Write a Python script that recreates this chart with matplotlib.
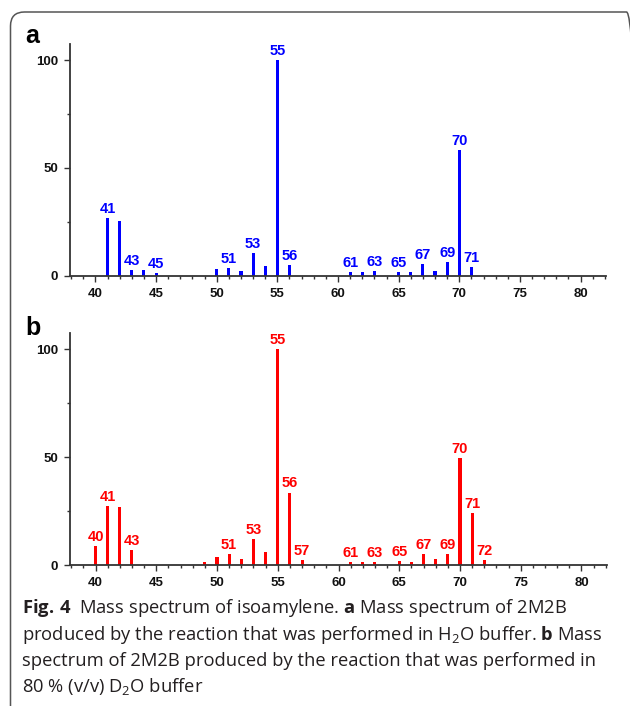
import matplotlib
matplotlib.use("Agg")
import matplotlib.pyplot as plt
from matplotlib.patches import FancyBboxPatch
from matplotlib.ticker import MultipleLocator
from matplotlib.font_manager import FontProperties

# m/z values and relative intensities
mz_a = [41, 42, 43, 44, 45, 50, 51, 52, 53, 54, 55, 56,
        61, 62, 63, 65, 66, 67, 68, 69, 70, 71]
int_a = [26.6, 25.2, 2.5, 2.5, 1.4, 3.1, 3.7, 2.0, 10.5, 4.6, 100, 5.1,
         1.5, 1.5, 2.0, 1.5, 1.7, 5.6, 2.0, 6.2, 58.2, 4.2]
lab_a = [41, 43, 45, 51, 53, 55, 56, 61, 63, 65, 67, 69, 70, 71]

mz_b = [40, 41, 42, 43, 49, 50, 51, 52, 53, 54, 55, 56, 57,
        61, 62, 63, 65, 66, 67, 68, 69, 70, 71, 72]
int_b = [8.9, 27.5, 26.7, 7.1, 1.5, 3.7, 5.1, 2.8, 12.2, 6.2, 100, 33.6, 2.2,
         1.5, 1.5, 1.5, 1.9, 1.5, 5.1, 2.8, 5.1, 49.7, 24.2, 2.2]
lab_b = [40, 41, 43, 51, 53, 55, 56, 57, 61, 63, 65, 67, 69, 70, 71, 72]

plt.rcParams['mathtext.fontset'] = 'custom'
plt.rcParams['mathtext.rm'] = 'Open Sans'
plt.rcParams['mathtext.bf'] = 'Open Sans:bold'
plt.rcParams['mathtext.it'] = 'Open Sans:italic'

fig = plt.figure(figsize=(6.3, 7.06), dpi=100)

# rounded frame around the figure (runs off the right and bottom edges)
frame = FancyBboxPatch((0.105, -0.5), 6.3, 7.44,
                       boxstyle="round,pad=0,rounding_size=0.14",
                       transform=fig.dpi_scale_trans, fill=False,
                       edgecolor='#555555', linewidth=1.1)
fig.patches.append(frame)

axis_col = '#333333'
tick_font = dict(family='Liberation Sans', weight='bold', size=9.5)


def spectrum(ax, mz, inten, labels, color):
    ax.bar(mz, inten, width=0.25, color=color)
    for m, v in zip(mz, inten):
        if m in labels:
            ax.annotate(str(m), (m, v), xytext=(0, 1.5), textcoords='offset points',
                        ha='center', va='bottom', color=color,
                        fontsize=10.5, fontweight='bold', family='Liberation Sans')
    ax.set_xlim(37.9, 82.1)
    ax.set_ylim(0, 107.5)
    ax.set_xticks(range(40, 81, 5))
    ax.xaxis.set_minor_locator(MultipleLocator(1))
    ax.set_yticks([0, 50, 100])
    ax.yaxis.set_minor_locator(MultipleLocator(25))
    for s in ['top', 'right']:
        ax.spines[s].set_visible(False)
    for s in ['left', 'bottom']:
        ax.spines[s].set_color(axis_col)
        ax.spines[s].set_linewidth(1.3)
    ax.tick_params(which='major', length=4.5, width=1, color=axis_col, pad=4)
    ax.tick_params(which='minor', length=2.5, width=1, color=axis_col)
    for t in ax.get_xticklabels() + ax.get_yticklabels():
        t.set_fontproperties(FontProperties(**tick_font))
        t.set_color('#111111')
    ax.patch.set_visible(False)


ax_a = fig.add_axes([70 / 630, 1 - 275.7 / 706, 536 / 630, 231.7 / 706])
spectrum(ax_a, mz_a, int_a, lab_a, '#0000ff')
ax_b = fig.add_axes([70 / 630, 1 - 565 / 706, 537 / 630, 231.7 / 706])
spectrum(ax_b, mz_b, int_b, lab_b, '#ff0000')

fig.text(25 / 630, 1 - 43 / 706, 'a', fontsize=18, fontweight='bold',
         family='Liberation Sans', ha='left', va='baseline')
fig.text(25 / 630, 1 - 335 / 706, 'b', fontsize=18, fontweight='bold',
         family='Liberation Sans', ha='left', va='baseline')

caption = [
    r"$\mathbf{Fig.\,4}$  Mass spectrum of isoamylene. $\mathbf{a}$ Mass spectrum of 2M2B",
    r"produced by the reaction that was performed in H$_\mathrm{2}$O buffer. $\mathbf{b}$ Mass",
    r"spectrum of 2M2B produced by the reaction that was performed in",
    r"80 % (v/v) D$_\mathrm{2}$O buffer",
]
baselines = [613, 640, 666, 692]
for line, yb in zip(caption, baselines):
    fig.text(22 / 630, 1 - yb / 706, line, fontsize=13.2, family='Open Sans',
             color='#231f20', ha='left', va='baseline')

fig.savefig('out.png', dpi=100)
